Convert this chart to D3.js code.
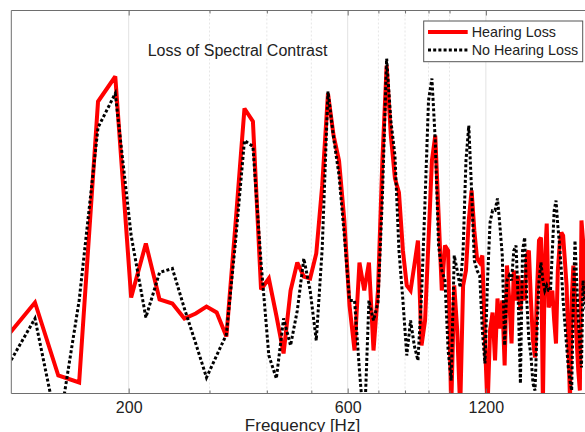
<!DOCTYPE html>
<html>
<head>
<meta charset="utf-8">
<script src="https://cdn.jsdelivr.net/npm/d3@7"></script>
<style>
  html, body { margin: 0; padding: 0; background: #fff; }
  svg { display: block; font-family: "Liberation Sans", Arial, Helvetica, sans-serif; }
</style>
</head>
<body>
<svg id="chart" width="585" height="432"></svg>
<script>
// ---------------- DATA ----------------
const title = "Loss of Spectral Contrast";
const xLabel = "Frequency [Hz]";
const seriesNames = ["Hearing Loss", "No Hearing Loss"];
const majorTicks = [200, 600, 1200];
const minorTicks = [300, 400, 500, 700, 800, 900, 1000];

const frequency = [
  109.5, 125, 140.5, 156, 171.5, 187, 202.5, 218, 233.5, 249,
  264.5, 280, 295.5, 311, 326.5, 342, 357.5, 373, 388.5, 404,
  419.5, 435, 450.5, 466, 481.5, 497, 512.5, 528, 543.5, 559,
  574.5, 590, 605.5, 621, 636.5, 652, 667.5, 683, 698.5, 714,
  729.5, 745, 760.5, 776, 791.5, 807, 822.5, 838, 853.5, 869,
  884.5, 900, 915.5, 931, 946.5, 962, 977.5, 993, 1008.5, 1024,
  1039.5, 1055, 1070.5, 1086, 1101.5, 1117, 1132.5, 1148, 1163.5, 1179,
  1194.5, 1210, 1225.5, 1241, 1256.5, 1272, 1287.5, 1303, 1318.5, 1334,
  1349.5, 1365, 1380.5, 1396, 1411.5, 1427, 1442.5, 1458, 1473.5, 1489,
  1504.5, 1520, 1535.5, 1551, 1566.5, 1582, 1597.5, 1613, 1628.5, 1644,
  1659.5, 1675, 1690.5, 1706, 1721.5, 1737, 1752.5, 1768, 1783.5, 1799,
  1814.5, 1830, 1845.5, 1861, 1876.5, 1892, 1907.5, 1923, 1938.5, 1954,
  1969.5, 1985, 2000.5
];

const hearingLoss = [
  5.9, 9.1, 1.8, 1.1, 29.2, 31.7, 9.6, 15.0, 9.4, 9.0,
  7.5, 8.0, 8.7, 8.1, 5.7, 17.1, 28.5, 27.2, 10.4, 11.5,
  7.8, 4.0, 10.3, 13.1, 11.7, 11.5, 14.0, 20.8, 30.0, 25.8,
  23.3, 17.3, 8.8, 4.3, 13.1, 10.3, 13.1, 4.3, 10.3, 23.3,
  32.8, 25.8, 21.5, 20.1, 14.3, 10.8, 10.3, 12.8, 15.3, 4.8,
  7.3, 15.3, 23.3, 25.8, 18.0, 10.3, 14.8, 14.3, -1.6, 10.8,
  6.3, -1.6, 10.8, 12.3, 17.3, 20.3, 16.3, 13.5, 13.1, 13.8,
  5.3, -1.6, 6.3, 8.1, 3.3, 9.5, 6.5, 9.3, 2.8, 12.8,
  9.3, 5.0, 12.3, 9.3, 11.8, 8.3, 11.3, 9.3, 13.8, 14.3,
  9.3, 5.3, 3.6, 10.3, 15.3, 15.6, -1.1, 13.3, 17.0, 8.6,
  9.3, 10.3, 7.3, 5.0, 12.3, 14.8, 16.1, 15.8, 13.3, 10.8,
  5.3, -0.6, 9.3, 12.8, 9.3, 5.3, 2.3, 0.3, 17.3, 15.3,
  10.8, 9.3, 10.3
];

const noHearingLoss = [
  2.9, 7.5, -3.9, 9.3, 26.6, 30.0, 15.8, 7.6, 12.1, 12.5,
  8.5, 5.0, 1.6, 3.8, 5.9, 15.3, 25.3, 24.7, 13.1, 3.8,
  1.5, 7.5, 4.8, 8.3, 13.5, 10.3, 5.3, 14.5, 30.2, 25.6,
  21.8, 15.8, 9.3, 9.3, 2.3, -3.6, 9.3, 7.3, 9.1, 19.6,
  33.5, 27.3, 23.8, 14.3, 9.3, 3.8, 7.3, 4.8, 3.3, 9.8,
  19.3, 29.3, 31.5, 25.3, 14.8, 12.3, 11.3, 4.3, 1.3, 13.8,
  12.3, 10.6, 14.3, 23.3, 26.8, 20.3, 13.3, 12.3, 11.8, 6.3,
  3.0, 11.3, 17.1, 18.3, 18.3, 19.5, 16.8, 13.8, 4.8, 11.3,
  11.8, 11.3, 14.3, 14.8, 9.3, 1.0, 14.3, 15.6, 9.3, 5.3,
  3.8, 1.0, 0.3, 6.3, 11.3, 13.1, 11.3, 10.3, 10.8, 10.3,
  10.3, 14.3, 18.3, 19.3, 16.8, 14.8, 12.3, 9.3, 7.0, 4.8,
  2.6, 1.3, 0.3, 9.3, 15.3, 11.3, 7.6, 4.8, 2.6, 11.3,
  9.3, 8.3, 9.3
];

(function () {
// ---------------- LAYOUT ----------------
const pL = 11.3, pR = 587.7, pT = 10.5, pB = 393.5;
const svg = d3.select("#chart");

const x = d3.scaleLog().domain([111, 2000]).range([pL, pR]);
const y = d3.scaleLinear().domain([0, 38.3]).range([pB, pT]);

const axisColor = "#6e6e6e";

// grid lines
const grid = svg.append("g");
grid.selectAll("line.major").data(majorTicks).enter().append("line")
  .attr("class", "major")
  .attr("x1", d => x(d)).attr("x2", d => x(d))
  .attr("y1", pT).attr("y2", pB)
  .attr("stroke", "#e3e3e3").attr("stroke-width", 1);
grid.selectAll("line.minor").data(minorTicks).enter().append("line")
  .attr("class", "minor")
  .attr("x1", d => x(d)).attr("x2", d => x(d))
  .attr("y1", pT).attr("y2", pB)
  .attr("stroke", "#e6e6e6").attr("stroke-width", 1)
  .attr("stroke-dasharray", "2,2");

// clip
svg.append("clipPath").attr("id", "plotclip").append("rect")
  .attr("x", pL).attr("y", pT).attr("width", pR - pL).attr("height", pB - pT);

const line = d3.line().x((d, i) => x(frequency[i])).y(d => y(d));

const plot = svg.append("g").attr("clip-path", "url(#plotclip)");
plot.append("path").datum(hearingLoss)
  .attr("d", line).attr("fill", "none")
  .attr("stroke", "#ff0000").attr("stroke-width", 4)
  .attr("stroke-linejoin", "miter").attr("stroke-miterlimit", 3);
plot.append("path").datum(noHearingLoss)
  .attr("d", line).attr("fill", "none")
  .attr("stroke", "#000").attr("stroke-width", 3)
  .attr("stroke-dasharray", "3,2.2");

// axes
const xAxisB = d3.axisBottom(x).tickValues(majorTicks).tickSize(-5).tickPadding(8.5)
  .tickFormat(d3.format("d"));
const gB = svg.append("g").attr("transform", `translate(0,${pB})`).call(xAxisB);
const gBm = svg.append("g").attr("transform", `translate(0,${pB})`)
  .call(d3.axisBottom(x).tickValues(minorTicks).tickSize(-3).tickFormat(""));
const gT = svg.append("g").attr("transform", `translate(0,${pT})`)
  .call(d3.axisTop(x).tickValues(majorTicks).tickSize(-5).tickFormat(""));
const gTm = svg.append("g").attr("transform", `translate(0,${pT})`)
  .call(d3.axisTop(x).tickValues(minorTicks).tickSize(-3).tickFormat(""));
[gB, gBm, gT, gTm].forEach(g => {
  g.select(".domain").remove();
  g.selectAll(".tick line").attr("stroke", axisColor);
});
gB.selectAll(".tick text").attr("fill", "#222").style("font-size", "16px")
  .style("font-family", '"Liberation Sans", Arial, sans-serif');

// box lines
svg.append("line").attr("x1", pL).attr("x2", pL).attr("y1", pT).attr("y2", pB)
  .attr("stroke", axisColor);
svg.append("line").attr("x1", pL).attr("x2", pR).attr("y1", pB).attr("y2", pB)
  .attr("stroke", axisColor);
svg.append("line").attr("x1", pL).attr("x2", pR).attr("y1", pT).attr("y2", pT)
  .attr("stroke", axisColor);
svg.append("line").attr("x1", pR).attr("x2", pR).attr("y1", pT).attr("y2", pB)
  .attr("stroke", axisColor);

// x label
svg.append("text").attr("x", 302.5).attr("y", 430.5)
  .attr("text-anchor", "middle").attr("fill", "#222")
  .style("font-size", "17px").text(xLabel);

// title
svg.append("text").attr("x", 147.7).attr("y", 55.5)
  .attr("fill", "#222").style("font-size", "16px").text(title);

// legend
const lg = svg.append("g");
lg.append("rect").attr("x", 423.7).attr("y", 21).attr("width", 159).attr("height", 40.7)
  .attr("fill", "#fff").attr("stroke", "#555").attr("stroke-width", 1);
const legY = [32, 50];
const styles = [
  { stroke: "#ff0000", w: 4, dash: null },
  { stroke: "#000", w: 3, dash: "3,2.2" }
];
seriesNames.forEach((name, i) => {
  const l = lg.append("line").attr("x1", 428).attr("x2", 467.7)
    .attr("y1", legY[i]).attr("y2", legY[i])
    .attr("stroke", styles[i].stroke).attr("stroke-width", styles[i].w);
  if (styles[i].dash) l.attr("stroke-dasharray", styles[i].dash);
  lg.append("text").attr("x", 471.7).attr("y", legY[i] + 5.2)
    .attr("fill", "#222").style("font-size", "14.3px").text(name);
});
})();
</script>
</body>
</html>
